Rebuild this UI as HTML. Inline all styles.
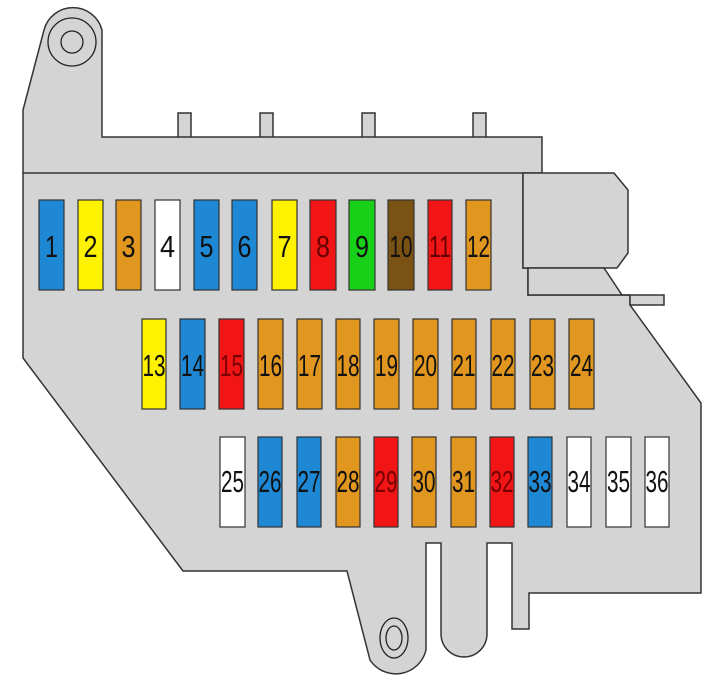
<!DOCTYPE html>
<html><head><meta charset="utf-8"><style>
html,body{margin:0;padding:0;background:#fff;}
svg{display:block}
text{font-family:"Liberation Sans",sans-serif;font-size:31px;}
</style></head><body>
<svg width="722" height="685" viewBox="0 0 722 685" xmlns="http://www.w3.org/2000/svg">
<g fill="#d4d4d4" stroke="#333" stroke-width="1.5">
<rect x="178" y="113" width="13" height="26"/>
<rect x="260" y="113" width="13" height="26"/>
<rect x="362" y="113" width="13" height="26"/>
<rect x="473" y="113" width="13" height="26"/>
<path d="M23,358 L23,110 L44,30 A30,30 0 0 1 102,30 L102,137 L542,137 L542,173 L523,173 L523,268 L528,268 L528,295 L630,295 L630,305 L701,403 L701,593 L529,593 L529,629 L512,629 L512,543 L487,543 L487,634 A23,23 0 0 1 441,634 L441,543 L426,543 L426,650 A31,31 0 0 1 370,660 L347,571 L183,571 Z"/>
<path d="M523,173 L614,173 L628,190 L628,253 L617,268 L523,268 Z"/>
<path d="M528,268 L604,268 L622,295 L664,295 L664,305 L630,305 L630,295 L528,295 Z"/>
</g>
<line x1="23" y1="173" x2="523" y2="173" stroke="#333" stroke-width="1.5"/>
<g fill="none" stroke="#222" stroke-width="1.3">
<circle cx="72" cy="42" r="24"/>
<circle cx="72" cy="42" r="11"/>
<ellipse cx="394" cy="638" rx="14" ry="20"/>
<ellipse cx="394" cy="638" rx="8" ry="12"/>
</g>
<g stroke="#333" stroke-width="1.2">
<rect x="39" y="200" width="25" height="90" fill="#1e88d4"/>
<rect x="78" y="200" width="25" height="90" fill="#fff200"/>
<rect x="116" y="200" width="25" height="90" fill="#e1961f"/>
<rect x="155" y="200" width="25" height="90" fill="#ffffff"/>
<rect x="194" y="200" width="25" height="90" fill="#1e88d4"/>
<rect x="232" y="200" width="25" height="90" fill="#1e88d4"/>
<rect x="272" y="200" width="25" height="90" fill="#fff200"/>
<rect x="310" y="200" width="26" height="90" fill="#f21515"/>
<rect x="349" y="200" width="26" height="90" fill="#19d019"/>
<rect x="388" y="200" width="26" height="90" fill="#7a5214"/>
<rect x="428" y="200" width="24" height="90" fill="#f21515"/>
<rect x="466" y="200" width="25" height="90" fill="#e1961f"/>
<rect x="142" y="319" width="24" height="90" fill="#fff200"/>
<rect x="180" y="319" width="25" height="90" fill="#1e88d4"/>
<rect x="219" y="319" width="25" height="90" fill="#f21515"/>
<rect x="258" y="319" width="25" height="90" fill="#e1961f"/>
<rect x="297" y="319" width="25" height="90" fill="#e1961f"/>
<rect x="336" y="319" width="24" height="90" fill="#e1961f"/>
<rect x="374" y="319" width="25" height="90" fill="#e1961f"/>
<rect x="413" y="319" width="25" height="90" fill="#e1961f"/>
<rect x="452" y="319" width="24" height="90" fill="#e1961f"/>
<rect x="491" y="319" width="24" height="90" fill="#e1961f"/>
<rect x="530" y="319" width="25" height="90" fill="#e1961f"/>
<rect x="569" y="319" width="25" height="90" fill="#e1961f"/>
<rect x="220" y="437" width="25" height="90" fill="#ffffff"/>
<rect x="258" y="437" width="24" height="90" fill="#1e88d4"/>
<rect x="297" y="437" width="24" height="90" fill="#1e88d4"/>
<rect x="336" y="437" width="24" height="90" fill="#e1961f"/>
<rect x="374" y="437" width="24" height="90" fill="#f21515"/>
<rect x="412" y="437" width="24" height="90" fill="#e1961f"/>
<rect x="451" y="437" width="25" height="90" fill="#e1961f"/>
<rect x="490" y="437" width="24" height="90" fill="#f21515"/>
<rect x="528" y="437" width="24" height="90" fill="#1e88d4"/>
<rect x="567" y="437" width="24" height="90" fill="#ffffff"/>
<rect x="606" y="437" width="25" height="90" fill="#ffffff"/>
<rect x="645" y="437" width="24" height="90" fill="#ffffff"/>
</g>
<g text-anchor="middle" fill="#111">
<text x="51.5" y="257" textLength="13" lengthAdjust="spacingAndGlyphs">1</text>
<text x="90.5" y="257" textLength="14" lengthAdjust="spacingAndGlyphs">2</text>
<text x="128.5" y="257" textLength="14" lengthAdjust="spacingAndGlyphs">3</text>
<text x="167.5" y="257" textLength="15" lengthAdjust="spacingAndGlyphs">4</text>
<text x="206.5" y="257" textLength="14" lengthAdjust="spacingAndGlyphs">5</text>
<text x="244.5" y="257" textLength="14" lengthAdjust="spacingAndGlyphs">6</text>
<text x="284.5" y="257" textLength="14" lengthAdjust="spacingAndGlyphs">7</text>
<text x="323" y="257" fill="#600" textLength="14" lengthAdjust="spacingAndGlyphs">8</text>
<text x="362" y="257" textLength="14" lengthAdjust="spacingAndGlyphs">9</text>
<text x="401" y="257" textLength="23" lengthAdjust="spacingAndGlyphs">10</text>
<text x="440" y="257" fill="#600" textLength="22" lengthAdjust="spacingAndGlyphs">11</text>
<text x="478.5" y="257" textLength="23" lengthAdjust="spacingAndGlyphs">12</text>
<text x="154" y="376" textLength="23" lengthAdjust="spacingAndGlyphs">13</text>
<text x="192.5" y="376" textLength="23" lengthAdjust="spacingAndGlyphs">14</text>
<text x="231.5" y="376" fill="#700" textLength="23" lengthAdjust="spacingAndGlyphs">15</text>
<text x="270.5" y="376" textLength="23" lengthAdjust="spacingAndGlyphs">16</text>
<text x="309.5" y="376" textLength="23" lengthAdjust="spacingAndGlyphs">17</text>
<text x="348" y="376" textLength="23" lengthAdjust="spacingAndGlyphs">18</text>
<text x="386.5" y="376" textLength="23" lengthAdjust="spacingAndGlyphs">19</text>
<text x="425.5" y="376" textLength="23" lengthAdjust="spacingAndGlyphs">20</text>
<text x="464" y="376" textLength="23" lengthAdjust="spacingAndGlyphs">21</text>
<text x="503" y="376" textLength="23" lengthAdjust="spacingAndGlyphs">22</text>
<text x="542.5" y="376" textLength="23" lengthAdjust="spacingAndGlyphs">23</text>
<text x="581.5" y="376" textLength="23" lengthAdjust="spacingAndGlyphs">24</text>
<text x="232.5" y="492" textLength="23" lengthAdjust="spacingAndGlyphs">25</text>
<text x="270" y="492" textLength="23" lengthAdjust="spacingAndGlyphs">26</text>
<text x="309" y="492" textLength="23" lengthAdjust="spacingAndGlyphs">27</text>
<text x="348" y="492" textLength="23" lengthAdjust="spacingAndGlyphs">28</text>
<text x="386" y="492" fill="#700" textLength="23" lengthAdjust="spacingAndGlyphs">29</text>
<text x="424" y="492" textLength="23" lengthAdjust="spacingAndGlyphs">30</text>
<text x="463.5" y="492" textLength="23" lengthAdjust="spacingAndGlyphs">31</text>
<text x="502" y="492" fill="#700" textLength="23" lengthAdjust="spacingAndGlyphs">32</text>
<text x="540" y="492" textLength="23" lengthAdjust="spacingAndGlyphs">33</text>
<text x="579" y="492" textLength="23" lengthAdjust="spacingAndGlyphs">34</text>
<text x="618.5" y="492" textLength="23" lengthAdjust="spacingAndGlyphs">35</text>
<text x="657" y="492" textLength="23" lengthAdjust="spacingAndGlyphs">36</text>
</g>
</svg>
</body></html>
